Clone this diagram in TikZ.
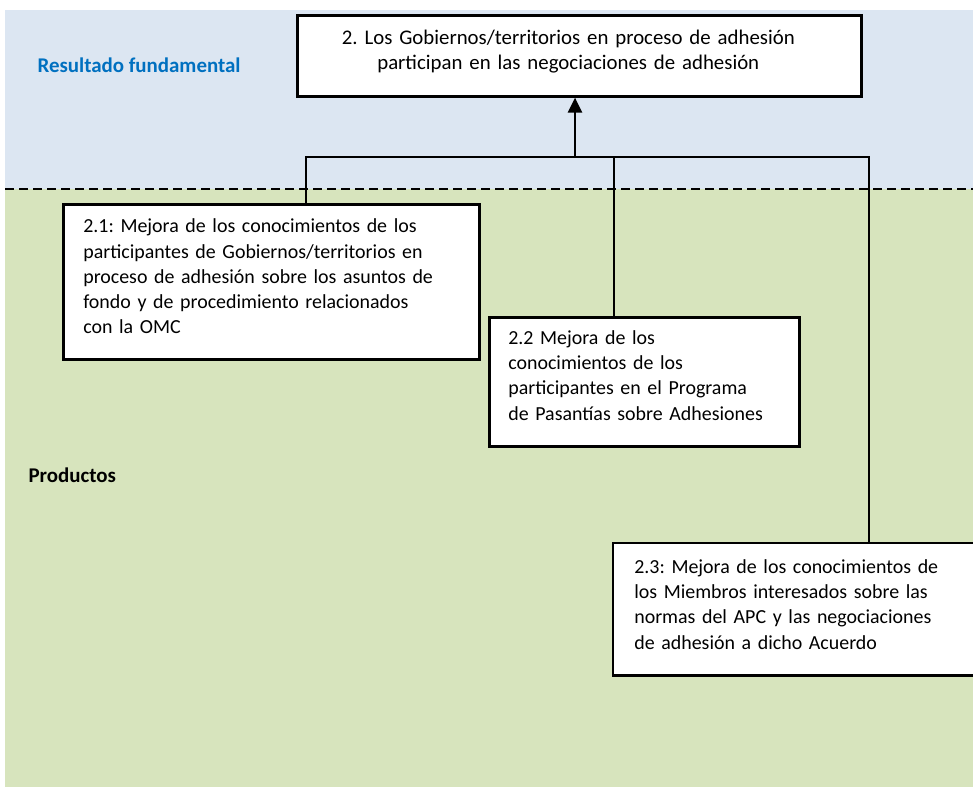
\documentclass[tikz,border=0pt]{standalone}
\usepackage{fontspec}
\setmainfont{Carlito}
\usetikzlibrary{positioning,arrows.meta}
\definecolor{resfondo}{RGB}{220,230,242}
\definecolor{prodfondo}{RGB}{215,228,189}
\definecolor{resazul}{RGB}{0,112,192}
\newcommand{\hueco}[1]{\rule[-#1]{0pt}{#1}}
\frenchspacing

\begin{document}
\begin{tikzpicture}[x=1bp,y=-1bp,
every node/.style={font=\fontsize{20}{25.3}\selectfont, inner ysep=0pt},
caja/.style={rectangle, draw, line width=2.6bp, fill=white, align=left, anchor=north west},
enlace/.style={line width=2.6bp},
rotulo/.style={anchor=west, font=\bfseries\fontsize{21}{24}\selectfont}]
\useasboundingbox (0,0) rectangle (973,787);
\clip (0,0) rectangle (973,787);
% fondos
\fill[resfondo] (5,10) rectangle (980,189);
\fill[prodfondo] (5,189) rectangle (980,790);
\draw[line width=2.2bp, dash pattern=on 9bp off 5bp] (5,189) -- (980,189);
% rotulos
\node[rotulo, text=resazul] (resultado) at (34,65) {Resultado fundamental};
\node[rotulo] (productos) at (25,475) {Productos};
% cajas
\node[caja, text width=564bp, inner xsep=0pt, minimum height=81bp, font=\fontsize{20.9}{25}\selectfont] (r2) at (296,14)
   {\makebox[542bp][c]{2. Los Gobiernos/territorios en proceso de adhesión}\\
    \makebox[542bp][c]{participan en las negociaciones de adhesión}\hueco{13pt}};
\node[caja, text width=376bp, inner xsep=20bp, minimum height=155bp] (p21) at (62,203)
   {2.1: Mejora de los conocimientos de los\\participantes de Gobiernos/territorios en\\proceso de adhesión sobre los asuntos de\\fondo y de procedimiento relacionados\\con la OMC\hueco{11pt}};
\node[caja, text width=272bp, inner xsep=19bp, minimum height=129bp] (p22) at (488,316)
   {2.2 Mejora de los\\conocimientos de los\\participantes en el Programa\\de Pasantías sobre Adhesiones\hueco{13pt}};
% la caja 2.3 sale por la derecha
\node[caja, draw=none, text width=380bp, inner xsep=20bp, minimum height=130bp] (p23) at (613,543)
   {2.3: Mejora de los conocimientos de\\los Miembros interesados sobre las\\normas del APC y las negociaciones\\de adhesión a dicho Acuerdo\hueco{10pt}};
\draw[enlace] (p23.north east) -- (p23.north west) -- (p23.south west) -- (p23.south east);
% enlaces
\coordinate (barra) at (575,157);
\coordinate (j21) at (306,157);
\coordinate (j22) at (614,157);
\coordinate (j23) at (869,157);
\draw[enlace, -{Triangle[width=14bp,length=15bp]}] (barra) -- (barra |- r2.south);
\draw[enlace] (j21 |- p21.north) -- (j21) -- (j23) -- (j23 |- p23.north);
\draw[enlace] (j22) -- (j22 |- p22.north);
\end{tikzpicture}
\end{document}
